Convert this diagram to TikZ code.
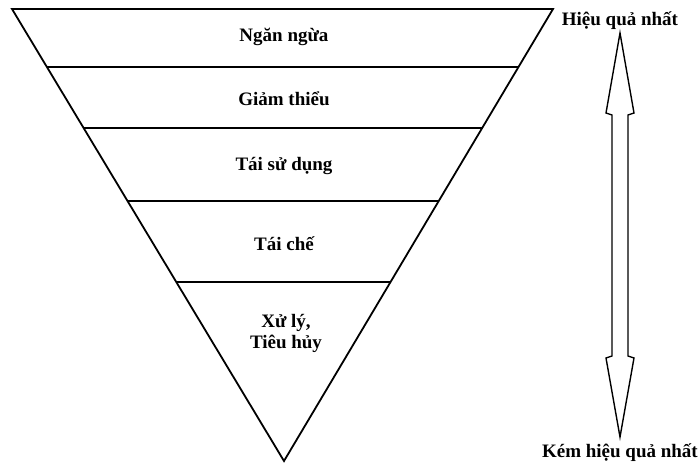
\documentclass[tikz,border=0pt]{standalone}
\usepackage{fontspec}
\setmainfont{Liberation Serif}
\usetikzlibrary{calc}
\begin{document}
\begin{tikzpicture}[x=1pt,y=-1pt,
  edge/.style={line width=1.8pt, line join=miter},
  band/.style={line width=1.8pt},
  lbl/.style={font=\fontsize{19}{21}\selectfont\bfseries, anchor=base, inner sep=0pt, align=center},
  rankarrow/.style={line width=1.4pt, line join=miter, fill=white}]
\useasboundingbox (0,0) rectangle (699,463);
% corners of the inverted triangle
\coordinate (L) at (12,9);
\coordinate (R) at (553,9);
\coordinate (A) at (284,461);
\draw[edge] (L) -- (R) -- (A) -- cycle;
% dividing lines between the levels
\foreach \t [count=\i] in {0.1283,0.2633,0.4248,0.604}{
  \coordinate (bl\i) at ($(L)!\t!(A)$);
  \coordinate (br\i) at ($(R)!\t!(A)$);
  \draw[band] (bl\i) -- (br\i);
}
% level labels
\node[lbl] (n1) at (284,41) {Ngăn ngừa};
\node[lbl] (n2) at (284,105) {Giảm thiểu};
\node[lbl] (n3) at (284,170) {Tái sử dụng};
\node[lbl] (n4) at (284,250) {Tái chế};
\node[lbl] (n5a) at (286,327) {Xử lý,};
\node[lbl] (n5b) at (286,348) {Tiêu hủy};
% effectiveness scale
\node[lbl] (top) at (620,25) {Hiệu quả nhất};
\node[lbl, anchor=base east] (bot) at (698,457) {Kém hiệu quả nhất};
\draw[rankarrow] (620,33) -- (634,113) -- (628,115) -- (628,356) -- (634,358)
  -- (620,437) -- (606,358) -- (612,356) -- (612,115) -- (606,113) -- cycle;
\end{tikzpicture}
\end{document}
